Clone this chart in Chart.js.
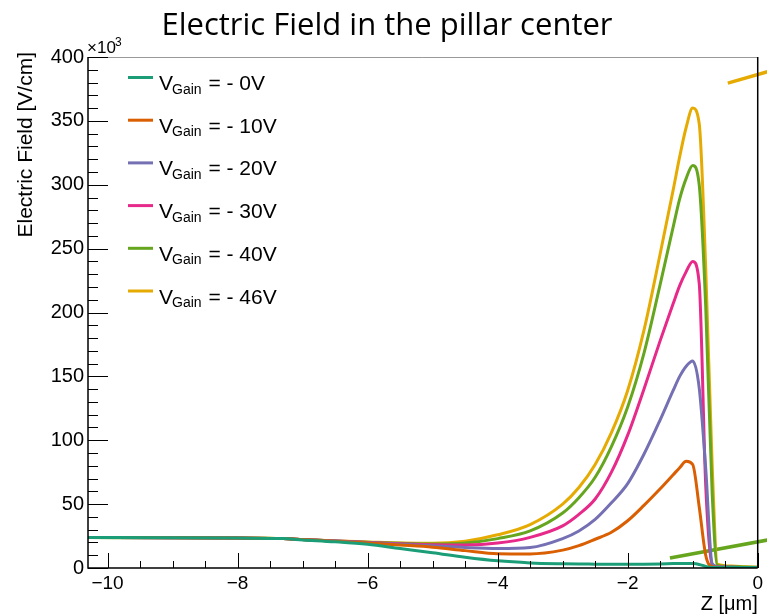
<!DOCTYPE html>
<html>
<head>
<meta charset="utf-8">
<script src="https://cdn.jsdelivr.net/npm/chart.js@4"></script>
<style>
  html, body { margin: 0; padding: 0; background: #fff; }
  #wrap { width: 767px; height: 616px; }
</style>
</head>
<body>
<div id="wrap"><canvas id="field-canvas" width="767" height="616"></canvas></div>
<script>
// Z position in the pillar [um]
const zValues = [-10.3, -9, -8, -7.3, -7, -6.5, -6, -5.5, -5, -4.5, -4, -3.5, -3, -2.75, -2.5, -2.25, -2,
  -1.75, -1.5, -1.3, -1.2, -1.1, -1.0, -0.9, -0.8, -0.7, -0.62, -0.4, -0.2, 0];

// electric field, units of 10^3 V/cm
const field0V  = [23.8, 23.7, 23.4, 23.0, 22.0, 20.5, 18.5, 15.2, 12.0, 8.4, 5.6, 4.0, 3.3, 3.1, 3.0, 2.9, 2.9,
  3.0, 3.2, 3.5, 3.6, 3.6, 3.5, 2.8, 1.2, 0.4, 0.3, 0.3, 0.3, 0.3];
const field10V = [23.8, 23.7, 23.4, 23.0, 22.3, 21.0, 19.6, 18.0, 16.3, 13.6, 11.2, 11.0, 14.0, 17.5, 22.5, 28.0, 37.0,
  49.0, 62.0, 73.0, 78.5, 83.5, 81.0, 48.0, 10.0, 1.0, 0.5, 0.4, 0.3, 0.3];
const field20V = [23.8, 23.7, 23.4, 23.0, 22.3, 21.1, 19.8, 18.5, 17.4, 16.0, 15.2, 16.0, 23.0, 29.0, 38.0, 51.0, 66.0,
  89.0, 116.0, 139.0, 150.0, 158.0, 162.0, 141.0, 78.0, 3.0, 1.0, 0.5, 0.4, 0.3];
const field30V = [23.8, 23.7, 23.4, 23.0, 22.3, 21.2, 20.0, 19.0, 18.2, 18.0, 19.5, 24.0, 33.0, 42.0, 54.0, 75.0, 104.0,
  140.0, 178.0, 207.0, 221.0, 232.0, 240.0, 223.0, 65.0, 3.0, 1.0, 0.5, 0.4, 0.3];
const field40V = [23.8, 23.7, 23.5, 23.0, 22.3, 21.2, 20.2, 19.3, 18.7, 19.5, 23.0, 29.0, 43.0, 55.0, 71.0, 95.0, 126.0,
  168.0, 222.0, 267.0, 289.0, 305.0, 315.0, 300.0, 205.0, 58.0, 2.0, 1.2, 0.8, 0.5];
const field46V = [23.8, 23.8, 23.5, 23.0, 22.3, 21.2, 20.4, 19.6, 19.3, 21.0, 26.0, 34.0, 50.0, 63.0, 81.0, 106.0, 139.0,
  186.0, 246.0, 296.0, 322.0, 345.0, 360.0, 348.0, 235.0, 80.0, 3.0, 1.5, 1.0, 0.5];

// the two stray segments sticking out on the right of the frame
const strayYellowZ = [-0.46, 0.3];
const strayYellowE = [379.6, 390.7];
const strayGreenZ = [-1.35, 0.3];
const strayGreenE = [7.8, 23.3];

const legendNames = ['- 0V', '- 10V', '- 20V', '- 30V', '- 40V', '- 46V'];
const lineColors = ['#1b9e77', '#d95f02', '#7570b3', '#e7298a', '#66a61e', '#e6ab02'];
const xTicks = [-10, -8, -6, -4, -2, 0];
const yTicks = [0, 50, 100, 150, 200, 250, 300, 350, 400];

const seriesList = [field0V, field10V, field20V, field30V, field40V, field46V];

const toPoints = (xs, ys) => xs.map((x, i) => ({ x: x, y: ys[i] }));

const datasets = seriesList.map((vals, i) => ({
  label: legendNames[i],
  data: toPoints(zValues, vals),
  borderColor: lineColors[i],
  backgroundColor: lineColors[i],
  borderWidth: 3,
  pointRadius: 0,
  cubicInterpolationMode: 'monotone',
  fill: false
}));

// stray bits, drawn outside the frame
datasets.push({
  label: '',
  data: toPoints(strayYellowZ, strayYellowE),
  borderColor: lineColors[5],
  borderWidth: 3.5,
  pointRadius: 0,
  clip: false
});
datasets.push({
  label: '',
  data: toPoints(strayGreenZ, strayGreenE),
  borderColor: lineColors[4],
  borderWidth: 3.5,
  pointRadius: 0,
  clip: false
});

const FONT = '"Liberation Sans", Arial, sans-serif';

// ROOT-like decorations: inner ticks, frame, titles, legend
const rootDecor = {
  id: 'rootDecor',
  afterDraw(chart) {
    const ctx = chart.ctx;
    const area = chart.chartArea;
    const xs = chart.scales.x;
    const ys = chart.scales.y;
    ctx.save();

    // frame
    ctx.strokeStyle = '#999';
    ctx.lineWidth = 1;
    ctx.beginPath();
    ctx.moveTo(area.left, area.top + 0.5);
    ctx.lineTo(area.right, area.top + 0.5);
    ctx.stroke();
    ctx.strokeStyle = '#000';
    ctx.lineWidth = 1.5;
    ctx.beginPath();
    ctx.moveTo(area.right, area.top);
    ctx.lineTo(area.right, area.bottom);
    ctx.moveTo(area.left, area.top);
    ctx.lineTo(area.left, area.bottom);
    ctx.lineTo(area.right, area.bottom);
    ctx.stroke();

    // x ticks (major every 2, minor every 0.5)
    ctx.lineWidth = 1;
    ctx.beginPath();
    for (let v = -10; v <= 0.001; v += 0.5) {
      const px = Math.round(xs.getPixelForValue(v)) + 0.5;
      const len = Math.abs(v % 2) < 0.001 ? 15 : 7;
      ctx.moveTo(px, area.bottom);
      ctx.lineTo(px, area.bottom - len);
    }
    // y ticks (major every 50, minor every 10)
    for (let v = 0; v <= 400; v += 10) {
      const py = Math.round(ys.getPixelForValue(v)) + 0.5;
      const len = v % 50 === 0 ? 20 : 10;
      ctx.moveTo(area.left, py);
      ctx.lineTo(area.left + len, py);
    }
    ctx.stroke();

    // title
    ctx.fillStyle = '#000';
    ctx.textAlign = 'center';
    ctx.textBaseline = 'alphabetic';
    ctx.font = '31px "Open Sans", "Noto Sans", sans-serif';
    ctx.fillText('Electric Field in the pillar center', 387, 35);

    // axis titles
    ctx.font = '20px ' + FONT;
    ctx.textAlign = 'right';
    ctx.fillText('Z [\u03bcm]', area.right, 610);
    ctx.save();
    ctx.translate(32, area.top - 5);
    ctx.rotate(-Math.PI / 2);
    ctx.textAlign = 'right';
    ctx.font = '21px ' + FONT;
    ctx.fillText('Electric Field [V/cm]', 0, 0);
    ctx.restore();

    // x10^3
    ctx.textAlign = 'left';
    ctx.font = '17px ' + FONT;
    ctx.fillText('\u00d710', 87, 53);
    ctx.font = '12px ' + FONT;
    ctx.fillText('3', 115, 46);

    // legend
    for (let i = 0; i < legendNames.length; i++) {
      const y = 77.5 + i * 42.7;
      ctx.strokeStyle = lineColors[i];
      ctx.lineWidth = 3;
      ctx.beginPath();
      ctx.moveTo(128, y);
      ctx.lineTo(153, y);
      ctx.stroke();
      ctx.fillStyle = '#000';
      ctx.font = '21px ' + FONT;
      ctx.fillText('V', 159, y + 12.5);
      let x = 159 + ctx.measureText('V').width;
      ctx.font = '14px ' + FONT;
      ctx.fillText('Gain', x - 1, y + 16);
      x += ctx.measureText('Gain').width;
      ctx.font = '21px ' + FONT;
      ctx.fillText(' = ' + legendNames[i], x, y + 12.5);
    }
    ctx.restore();
  }
};

const ctx = document.getElementById('field-canvas').getContext('2d');
window.fieldChart = new Chart(ctx, {
  type: 'line',
  data: { datasets: datasets },
  options: {
    responsive: false,
    animation: false,
    layout: { padding: { top: 57, right: 5, left: 0, bottom: 0 } },
    plugins: {
      legend: { display: false },
      title: { display: false },
      tooltip: { enabled: false }
    },
    scales: {
      x: {
        type: 'linear',
        min: -10.3,
        max: 0,
        grid: { display: false, drawTicks: false },
        border: { display: false },
        afterBuildTicks: (scale) => { scale.ticks = xTicks.map(v => ({ value: v })); },
        afterFit: (scale) => { scale.height = 48; },
        ticks: {
          color: '#000',
          padding: 4,
          maxRotation: 0,
          font: { family: FONT, size: 19 },
          callback: (v) => (v < 0 ? '\u2212' + Math.abs(v) : String(v))
        }
      },
      y: {
        type: 'linear',
        min: 0,
        max: 400,
        grid: { display: false, drawTicks: false },
        border: { display: false },
        afterBuildTicks: (scale) => { scale.ticks = yTicks.map(v => ({ value: v })); },
        afterFit: (scale) => { scale.width = 88; },
        ticks: {
          color: '#000',
          padding: 4,
          font: { family: FONT, size: 20 }
        }
      }
    }
  },
  plugins: [rootDecor]
});
</script>
</body>
</html>
